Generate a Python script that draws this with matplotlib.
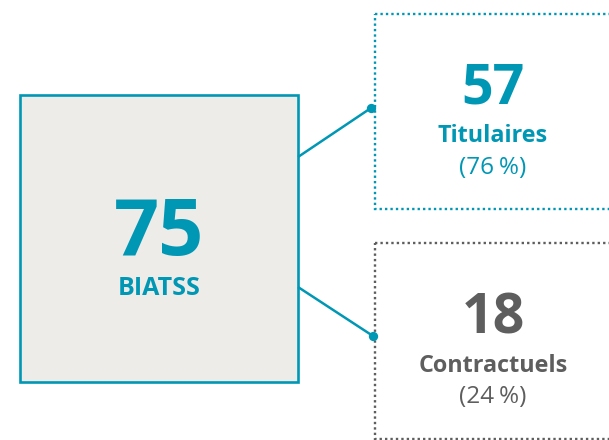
import matplotlib
matplotlib.use("Agg")
import matplotlib.pyplot as plt
from matplotlib.patches import Rectangle

# Data
total_label = "BIATSS"
total_value = 75
categories = ["Titulaires", "Contractuels"]
counts = [57, 18]
percents = [76, 24]

TEAL = "#0097B5"
GREY = "#5E5E5E"
FONT = ["Open Sans", "DejaVu Sans"]

fig = plt.figure(figsize=(6.09, 4.40), dpi=100)
ax = fig.add_axes([0, 0, 1, 1])
ax.set_xlim(0, 609)
ax.set_ylim(440, 0)
ax.axis("off")

# Main box
ax.add_patch(Rectangle((20, 95), 278, 287, facecolor="#EDECE8", edgecolor=TEAL, linewidth=1.9, zorder=2))
ax.text(159, 255, str(total_value), color=TEAL, fontsize=57, fontweight="bold", family=FONT,
        ha="center", va="baseline", zorder=3)
ax.text(159, 295, total_label, color=TEAL, fontsize=18, fontweight="bold", family=FONT,
        ha="center", va="baseline", zorder=3)

# Sub boxes
box_cfg = [
    dict(x=375, y=14, h=195, color=TEAL, line_from=(298, 157), dot=(371, 108),
         base=(103, 142, 174)),
    dict(x=375, y=243, h=196, color=GREY, line_from=(298, 287), dot=(373, 336),
         base=(333, 372, 403)),
]
for cat, n, p, cfg in zip(categories, counts, percents, box_cfg):
    ax.add_patch(Rectangle((cfg["x"], cfg["y"]), 260, cfg["h"], facecolor="none",
                           edgecolor=cfg["color"], linewidth=1.7, linestyle=(0, (1, 1.3)),
                           zorder=2, clip_on=False))
    (x0, y0), (x1, y1) = cfg["line_from"], cfg["dot"]
    ax.plot([x0, x1], [y0, y1], color=TEAL, linewidth=1.8, zorder=3, solid_capstyle="butt")
    ax.scatter([x1], [y1], s=45, color=TEAL, zorder=4, linewidths=0)
    cx = 493
    b1, b2, b3 = cfg["base"]
    ax.text(cx, b1, str(n), color=cfg["color"], fontsize=40, fontweight="bold", family=FONT,
            ha="center", va="baseline")
    ax.text(cx, b2, cat, color=cfg["color"], fontsize=16.8, fontweight="bold", family=FONT,
            ha="center", va="baseline")
    ax.text(cx, b3, f"({p}\u202f%)", color=cfg["color"], fontsize=17.5, family=FONT,
            ha="center", va="baseline")

fig.savefig("out.png", dpi=100, facecolor="white")
